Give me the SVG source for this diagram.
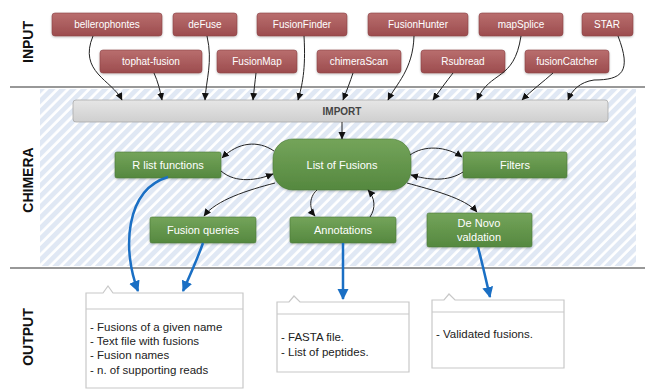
<svg xmlns="http://www.w3.org/2000/svg" width="645" height="390" viewBox="0 0 645 390">
<defs>
<linearGradient id="gRed" x1="0" y1="0" x2="0" y2="1"><stop offset="0" stop-color="#b96e6e"/><stop offset="1" stop-color="#9c4c4e"/></linearGradient>
<linearGradient id="gGreen" x1="0" y1="0" x2="0" y2="1"><stop offset="0" stop-color="#74a45a"/><stop offset="1" stop-color="#55883f"/></linearGradient>
<linearGradient id="gGray" x1="0" y1="0" x2="0" y2="1"><stop offset="0" stop-color="#e6e6e6"/><stop offset="1" stop-color="#cfcfcf"/></linearGradient>
<pattern id="hatch" width="7.5" height="7.5" patternUnits="userSpaceOnUse" patternTransform="rotate(45)"><rect width="7.5" height="7.5" fill="#ffffff"/><rect width="4.8" height="7.5" fill="#e0e8f4"/></pattern>
<marker id="ah" markerWidth="8" markerHeight="8" refX="7" refY="4" orient="auto" markerUnits="userSpaceOnUse"><path d="M0,0.5 L7.5,4 L0,7.5 Z" fill="#111"/></marker>
<marker id="bh" markerWidth="12" markerHeight="12" refX="10" refY="6" orient="auto" markerUnits="userSpaceOnUse"><path d="M0,0.5 L11,6 L0,11.5 Z" fill="#1a6fc4"/></marker>
<filter id="sh" x="-10%" y="-20%" width="120%" height="150%"><feDropShadow dx="0" dy="1" stdDeviation="1" flood-color="#000" flood-opacity="0.25"/></filter>
</defs>
<style>
.in rect{fill:url(#gRed);stroke:#8a4244;stroke-width:0.6;filter:url(#sh)}
.in text{fill:#fff;font-family:"Liberation Sans",Arial,sans-serif;font-size:10px;text-anchor:middle}
.gn rect{fill:url(#gGreen);stroke:#4a7a36;stroke-width:0.6;filter:url(#sh)}
.gn text{fill:#fff;font-family:"Liberation Sans",Arial,sans-serif;font-size:11px;text-anchor:middle}
.lab{font-family:"Liberation Sans",Arial,sans-serif;font-size:14px;font-weight:bold;fill:#111;text-anchor:middle}
.out path{fill:#fff;stroke:#c8c8c8;stroke-width:1.2}
.out text{fill:#222;font-family:"Liberation Sans",Arial,sans-serif;font-size:11.5px}
.blk{fill:none;stroke:#222;stroke-width:1;marker-end:url(#ah)}
.blue{fill:none;stroke:#1a6fc4;stroke-width:2.5;marker-end:url(#bh)}
.sep{stroke:#333;stroke-width:1.2}
</style>
<rect width="645" height="390" fill="#fff"/>
<rect x="40" y="89" width="596" height="177" fill="url(#hatch)"/>
<line class="sep" x1="10" y1="87" x2="645" y2="87"/>
<line class="sep" x1="10" y1="268" x2="645" y2="268"/>
<text class="lab" transform="translate(33,42) rotate(-90)">INPUT</text>
<text class="lab" transform="translate(33,180) rotate(-90)">CHIMERA</text>
<text class="lab" transform="translate(33,337) rotate(-90)">OUTPUT</text>

<g id="import"><rect x="73" y="100" width="535" height="22" rx="3" fill="url(#gGray)" stroke="#aaa" stroke-width="0.8"/><text x="342" y="115" font-family="Liberation Sans,Arial,sans-serif" font-size="10" font-weight="bold" fill="#444" text-anchor="middle">IMPORT</text></g>

<g id="bellerophontes" class="in"><rect x="52" y="13" width="110" height="23" rx="3"/><text x="107" y="28">bellerophontes</text></g>
<g id="deFuse" class="in"><rect x="173" y="13" width="64" height="23" rx="3"/><text x="205" y="28">deFuse</text></g>
<g id="FusionFinder" class="in"><rect x="257" y="13" width="90" height="23" rx="3"/><text x="302" y="28">FusionFinder</text></g>
<g id="FusionHunter" class="in"><rect x="368" y="13" width="100" height="23" rx="3"/><text x="418" y="28">FusionHunter</text></g>
<g id="mapSplice" class="in"><rect x="479" y="13" width="84" height="23" rx="3"/><text x="521" y="28">mapSplice</text></g>
<g id="STAR" class="in"><rect x="582" y="13" width="51" height="23" rx="3"/><text x="607" y="28">STAR</text></g>
<g id="tophat-fusion" class="in"><rect x="100" y="50" width="102" height="23" rx="3"/><text x="151" y="65">tophat-fusion</text></g>
<g id="FusionMap" class="in"><rect x="217" y="50" width="80" height="23" rx="3"/><text x="257" y="65">FusionMap</text></g>
<g id="chimeraScan" class="in"><rect x="317" y="50" width="84" height="23" rx="3"/><text x="359" y="65">chimeraScan</text></g>
<g id="Rsubread" class="in"><rect x="421" y="50" width="84" height="23" rx="3"/><text x="463" y="65">Rsubread</text></g>
<g id="fusionCatcher" class="in"><rect x="525" y="50" width="84" height="23" rx="3"/><text x="567" y="65">fusionCatcher</text></g>

<g id="list-of-fusions" class="gn"><rect x="273" y="139" width="138" height="51" rx="20"/><text x="342" y="169" font-size="12.5">List of Fusions</text></g>
<g id="r-list-functions" class="gn"><rect x="115" y="152" width="106" height="26" rx="2"/><text x="168" y="169">R list functions</text></g>
<g id="filters" class="gn"><rect x="463" y="152" width="104" height="26" rx="2"/><text x="515" y="169">Filters</text></g>
<g id="fusion-queries" class="gn"><rect x="150" y="217" width="106" height="26" rx="2"/><text x="203" y="234">Fusion queries</text></g>
<g id="annotations" class="gn"><rect x="290" y="217" width="106" height="26" rx="2"/><text x="343" y="234">Annotations</text></g>
<g id="de-novo" class="gn"><rect x="427" y="213" width="105" height="34" rx="2"/><text x="479" y="227">De Novo</text><text x="479" y="241">valdation</text></g>

<g id="out-1" class="out"><path d="M86,293 H103 L108,286 L113,293 H243 V388 H86 Z"/><path d="M86,309 H243"/><text x="90" y="331">- Fusions of a given name</text><text x="90" y="345">- Text file with fusions</text><text x="90" y="359">- Fusion names</text><text x="90" y="374">- n. of supporting reads</text></g>
<g id="out-2" class="out"><path d="M277,302 H289 L294,296 L300,302 H409 V372 H277 Z"/><path d="M277,314 H409"/><text x="281" y="341">- FASTA file.</text><text x="281" y="356">- List of peptides.</text></g>
<g id="out-3" class="out"><path d="M432,300 H444 L449,294 L455,300 H564 V368 H432 Z"/><path d="M432,312 H564"/><text x="436" y="338">- Validated fusions.</text></g>

<g id="connectors">
<path class="blk" d="M93,36 C78,72 112,80 122,100"/>
<path class="blk" d="M154,73 C158,82 160,90 162,100"/>
<path class="blk" d="M207,36 C213,62 206,80 205,100"/>
<path class="blk" d="M256,73 C255,82 254,90 253,100"/>
<path class="blk" d="M304,36 C306,70 302,86 298,100"/>
<path class="blk" d="M353,73 C350,82 347,90 343,100"/>
<path class="blk" d="M414,36 C413,70 396,84 388,100"/>
<path class="blk" d="M453,73 C446,82 440,90 433,100"/>
<path class="blk" d="M521,36 C514,82 490,70 477,100"/>
<path class="blk" d="M553,73 C543,82 532,90 522,100"/>
<path class="blk" d="M618,36 C632,72 622,80 594,80 C580,82 572,90 568,100"/>
<path class="blk" d="M342,122 L342,139"/>
<path class="blk" d="M274,151 C258,140 238,142 222,158"/>
<path class="blk" d="M221,171 C236,184 258,180 273,174"/>
<path class="blk" d="M410,155 C424,145 446,146 462,157"/>
<path class="blk" d="M463,172 C448,182 428,180 411,175"/>
<path class="blk" d="M275,183 C248,190 216,200 204,216"/>
<path class="blk" d="M317,190 C308,198 310,210 315,216"/>
<path class="blk" d="M370,217 C376,208 375,198 368,190"/>
<path class="blk" d="M407,183 C432,190 465,198 477,212"/>
<path class="blue" d="M168,177 C125,190 122,250 138,291"/>
<path class="blue" d="M203,243 C197,260 190,275 183,291"/>
<path class="blue" d="M343,243 L343,299"/>
<path class="blue" d="M478,247 C482,262 486,280 490,297"/>
</g>
</svg>
